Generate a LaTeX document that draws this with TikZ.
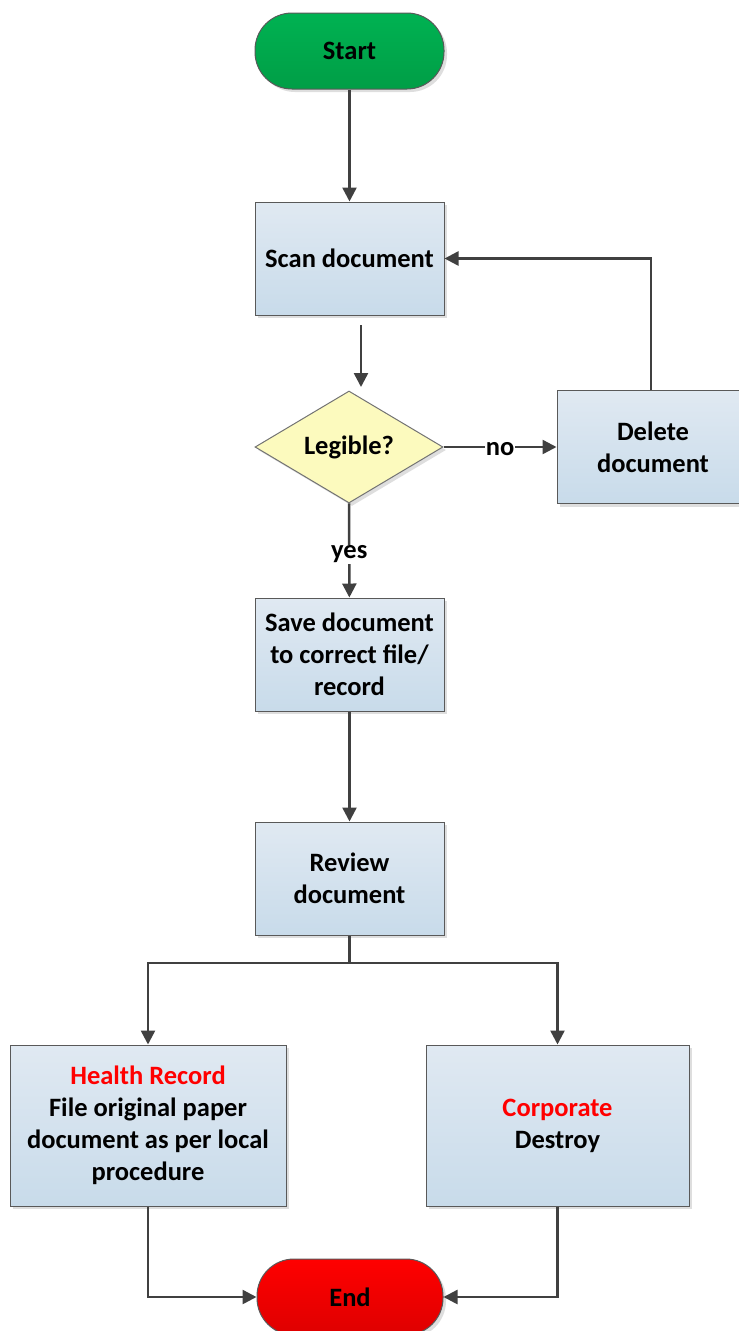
\documentclass[tikz,border=0pt]{standalone}
\usepackage{fontspec}
\setmainfont{Carlito}
\usetikzlibrary{
  shapes.geometric,
  arrows.meta,
  shadows
}
\definecolor{boxtop}{RGB}{224,233,242}
\definecolor{boxbot}{RGB}{200,219,234}
\definecolor{ifill}{RGB}{252,250,190}
\definecolor{gotop}{RGB}{0,178,82}
\definecolor{gobot}{RGB}{0,158,70}
\definecolor{stoptop}{RGB}{255,0,0}
\definecolor{stopbot}{RGB}{222,0,0}
\definecolor{linegray}{RGB}{64,64,64}

\begin{document}
\begin{tikzpicture}[x=1pt, y=-1pt,
  every node/.style = {font=\fontsize{26.5}{32}\selectfont\bfseries, align=center},
  shade/.style = {drop shadow={shadow xshift=3pt, shadow yshift=-3pt,
    fill=black!13, opacity=1}},
  box/.style = {shape=rectangle, draw=black!65, line width=1pt, shade,
    top color=boxtop, bottom color=boxbot,
    minimum width=189pt, minimum height=113pt, inner sep=0pt},
  term/.style = {shape=rectangle, rounded corners=37pt, draw=black!65,
    line width=1pt, shade, minimum width=189pt, minimum height=76pt},
  decide/.style = {shape=diamond, aspect=1.68, draw=black!55, line width=1pt,
    fill=ifill, shade, inner sep=0pt, minimum width=188pt, minimum height=112pt},
  conn/.style = {draw=linegray, line width=2.5pt,
    -{Triangle[length=14pt, width=14pt]}},
  wire/.style = {draw=linegray, line width=2.5pt},
  lbl/.style = {fill=white, inner sep=1pt}]
    \useasboundingbox (0,0) rectangle (739,1331);

    % main column
    \node[term, top color=gotop, bottom color=gobot] (start) at (349.5,51) {Start};
    \node[box] (scan) at (349.5,258.5) {Scan document};
    \node[decide] (legible) at (349,447) {Legible?};
    \node[box, minimum width=192pt] (delete) at (653,447) {Delete\\document};
    \node[box] (save) at (349.5,654.5) {Save document\\to correct file/\\record};
    \node[box] (review) at (349.5,878.5) {Review\\document};

    % split
    \node[box, minimum width=276pt, minimum height=161pt] (health) at (148,1125.5)
      {\textcolor{red}{Health Record}\\File original paper\\document as per local\\procedure};
    \node[box, minimum width=263pt, minimum height=161pt] (corp) at (557.5,1125.5)
      {\textcolor{red}{Corporate}\\Destroy};
    \node[term, minimum width=186pt, top color=stoptop, bottom color=stopbot] (end)
      at (350,1297) {End};

    \coordinate (gapa) at (361,325);
    \coordinate (gapb) at (361,387);
    \coordinate (fork) at (349.5,963);

    \draw[conn] (start) -- (scan);
    \draw[conn] (gapa) -- (gapb);
    \draw[conn] (legible) -- node[lbl, yshift=-2pt] {no} (delete.west);
    \draw[conn] ([xshift=-2pt]delete.north) |- (scan.east);
    \draw[conn] (legible) -- node[lbl, yshift=-4pt] {yes} (save);
    \draw[conn] (save) -- (review);
    \draw[wire] (review) -- (fork);
    \draw[conn] (fork) -| (health);
    \draw[conn] (fork) -| (corp);
    \draw[conn] (health) |- (end);
    \draw[conn] (corp) |- (end);
\end{tikzpicture}
\end{document}
